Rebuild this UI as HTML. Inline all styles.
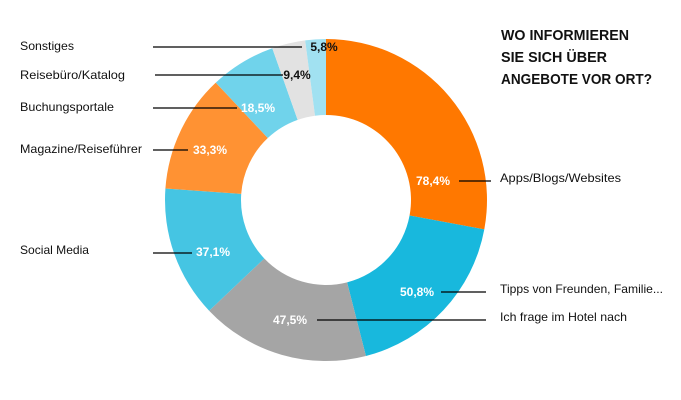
<!DOCTYPE html>
<html><head><meta charset="utf-8"><style>
html,body{margin:0;padding:0;background:#fff;}
svg{display:block;font-family:"Liberation Sans",sans-serif;}
</style></head><body>
<svg id="s" width="681" height="400" viewBox="0 0 681 400" xmlns="http://www.w3.org/2000/svg">
<g id="slices"></g>
<g stroke="#000" stroke-width="1.2">
<line x1="153" y1="47" x2="302" y2="47"/>
<line x1="155" y1="75" x2="283" y2="75"/>
<line x1="153" y1="108" x2="237" y2="108"/>
<line x1="153" y1="150" x2="188" y2="150"/>
<line x1="153" y1="253" x2="192" y2="253"/>
<line x1="459" y1="181" x2="491" y2="181"/>
<line x1="441" y1="292" x2="486" y2="292"/>
<line x1="317" y1="320" x2="486" y2="320"/>
</g>
<g font-size="12" fill="#111">
<text x="20" y="50" textLength="54" lengthAdjust="spacingAndGlyphs">Sonstiges</text>
<text x="20" y="79" textLength="105" lengthAdjust="spacingAndGlyphs">Reisebüro/Katalog</text>
<text x="20" y="111" textLength="94" lengthAdjust="spacingAndGlyphs">Buchungsportale</text>
<text x="20" y="153" textLength="122" lengthAdjust="spacingAndGlyphs">Magazine/Reiseführer</text>
<text x="20" y="254" textLength="69" lengthAdjust="spacingAndGlyphs">Social Media</text>
<text x="500" y="182" textLength="121" lengthAdjust="spacingAndGlyphs">Apps/Blogs/Websites</text>
<text x="500" y="293" textLength="163" lengthAdjust="spacingAndGlyphs">Tipps von Freunden, Familie...</text>
<text x="500" y="321" textLength="127" lengthAdjust="spacingAndGlyphs">Ich frage im Hotel nach</text>
</g>
<g font-size="12" font-weight="bold" text-anchor="middle">
<text x="324" y="51" fill="#111">5,8%</text>
<text x="297" y="79" fill="#111">9,4%</text>
<text x="258" y="112" fill="#fff">18,5%</text>
<text x="210" y="154" fill="#fff">33,3%</text>
<text x="433" y="185" fill="#fff">78,4%</text>
<text x="417" y="296" fill="#fff">50,8%</text>
<text x="290" y="324" fill="#fff">47,5%</text>
<text x="213" y="256" fill="#fff">37,1%</text>
</g>
<g font-size="15" font-weight="bold" fill="#111">
<text x="501" y="40" textLength="128" lengthAdjust="spacingAndGlyphs">WO INFORMIEREN</text>
<text x="501" y="62" textLength="106" lengthAdjust="spacingAndGlyphs">SIE SICH ÜBER</text>
<text x="501" y="84" textLength="151" lengthAdjust="spacingAndGlyphs">ANGEBOTE VOR ORT?</text>
</g>
</svg>
<script>
(function(){
var d=[[78.4,"#FF7800"],[50.8,"#18B8DD"],[47.5,"#A5A5A5"],[37.1,"#45C5E3"],[33.3,"#FF9233"],[18.5,"#70D3EB"],[9.4,"#E2E2E2"],[5.8,"#A1E1F1"]];
var tot=0;d.forEach(function(x){tot+=x[0];});
var cx=326,cy=200,R=161,r=85,a=0,g=document.getElementById("slices"),h="";
function p(ang,rad){return [cx+rad*Math.sin(ang),cy-rad*Math.cos(ang)];}
d.forEach(function(x){
 var a2=a+x[0]/tot*2*Math.PI,l=(a2-a)>Math.PI?1:0;
 var p1=p(a,R),p2=p(a2,R),p3=p(a2,r),p4=p(a,r);
 h+='<path fill="'+x[1]+'" d="M'+p1+' A'+R+','+R+' 0 '+l+' 1 '+p2+' L'+p3+' A'+r+','+r+' 0 '+l+' 0 '+p4+' Z"/>';
 a=a2;});
g.innerHTML=h;
})();
</script>
</body></html>
